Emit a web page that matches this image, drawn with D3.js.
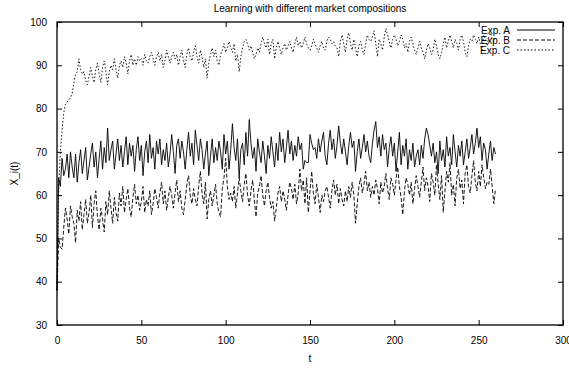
<!DOCTYPE html>
<html>
<head>
<meta charset="utf-8">
<script src="https://cdn.jsdelivr.net/npm/d3@7"></script>
<style>
  body { margin: 0; background: #fff; }
  text { font-family: "Liberation Sans", Arial, sans-serif; fill: #000; }
</style>
</head>
<body>
<div id="chart"></div>
<script>
// values, one per time step t = 0..260
const expA = [
  38, 64, 62, 68.5, 64.5, 66, 69.5, 64, 70, 66.5,
  64, 69.5, 63, 67.5, 70.5, 65, 68, 71, 63.5, 66.5,
  69.5, 72, 66.5, 70, 64, 68.5, 72.5, 66, 71, 67.5,
  75.5, 68, 70.5, 72.5, 66, 69.5, 73, 68, 71.5, 66.5,
  70, 73.5, 67, 72, 69, 71.5, 65.5, 70.5, 73.5, 68,
  71.5, 64.5, 70, 72.5, 67.5, 74, 68.5, 71, 66, 72.5,
  69.5, 73, 67, 70.5, 68, 72, 66.5, 69.5, 74, 70,
  65, 71.5, 73, 68.5, 72.5, 70, 66, 70.5, 74.5, 69,
  72, 67, 75, 71.5, 68, 73, 70.5, 66, 69.5, 72.5,
  64.5, 69, 73, 67.5, 71, 68, 72.5, 70, 66, 74,
  69.5, 72.5, 66, 70.5, 76.5, 71, 68, 73, 64, 70.5,
  72, 67, 74.5, 69, 77.5, 72, 68.5, 71, 65.5, 73,
  70, 67.5, 72.5, 69, 65, 71.5, 68.5, 73.5, 70, 66.5,
  72, 68, 74.5, 70, 73, 67.5, 71, 75, 69.5, 72.5,
  68, 71.5, 69, 73.5, 70.5, 72, 66, 68, 67.5, 67.5,
  74, 72, 70.5, 71, 68.5, 73, 70, 72.5, 74.5, 69,
  67, 72, 75, 70.5, 73, 68.5, 71.5, 76, 72, 69.5,
  73, 70, 67, 71.5, 74.5, 71, 72.5, 65.5, 70, 73,
  68.5, 71, 74, 70, 72.5, 69, 67.5, 72, 75, 77,
  71, 73.5, 69, 74, 70.5, 72, 66.5, 71, 73.5, 69,
  72, 65.5, 70, 74.5, 67, 71.5, 69, 73, 66, 70.5,
  68, 72, 66.5, 69, 70.5, 67, 71.5, 68.5, 73, 75.5,
  74, 71.5, 69, 72, 67.5, 70, 65, 72.5, 68, 70.5,
  66.5, 73.5, 69, 71, 67, 74, 70, 66.5, 71.5, 69,
  72.5, 67, 70, 73, 68.5, 71, 74, 69.5, 72, 75.5,
  71, 73.5, 68, 72, 70.5, 66, 69.5, 72.5, 68, 71,
  69.5
];
const expB = [
  38, 50, 48, 47.5, 52.5, 57, 54.5, 51, 57.5, 55,
  53.5, 49, 56.5, 54, 58.5, 52, 55.5, 59, 53.5, 56,
  60, 52.5, 58, 61, 55, 52, 57, 54.5, 51.5, 58.5,
  55.5, 61, 57, 53.5, 59.5, 56, 54, 60.5, 57.5, 62,
  56, 59, 61.5, 57, 55, 59.5, 62.5, 58, 60, 56.5,
  58.5, 62, 56, 59, 57.5, 61, 55.5, 58, 61.5, 59.5,
  57, 60.5, 63, 58, 61, 56.5, 59.5, 62, 60, 57,
  60.5, 63.5, 58.5, 61, 57, 55.5, 59, 62.5, 64.5, 60,
  58, 61.5, 59, 57.5, 62, 65.5, 60.5, 58, 63, 54.5,
  59, 61, 57.5, 60, 62.5, 58, 56, 55, 61.5, 64,
  68.5, 62, 59, 60.5, 58.5, 62, 57, 60.5, 64, 61,
  58.5, 62.5, 65, 60, 57.5, 61, 63.5, 59, 55, 60.5,
  62, 64.5, 60, 57.5, 61, 63, 59.5, 57, 58.5, 54,
  57, 60.5, 62, 58.5, 61, 59, 56.5, 60, 63, 61.5,
  59, 62.5, 58, 60.5, 66, 61, 63.5, 58, 64, 56,
  61, 65.5, 60.5, 58, 62.5, 59.5, 56, 60, 58.5, 61,
  62, 59.5, 57, 61, 63.5, 60, 62.5, 58, 61.5, 59,
  57.5, 61, 58.5, 62, 59.5, 63, 60, 53.5, 58, 62,
  64, 60.5, 62.5, 65.5, 61, 63, 59.5, 62, 60, 63.5,
  61.5, 58, 63, 60.5, 62, 65, 61.5, 59, 64, 62.5,
  60, 63.5, 66.5, 62, 59.5, 55.5, 61, 64, 62.5, 60,
  63, 58, 61.5, 64.5, 62, 59.5, 63, 66.5, 61, 64,
  62, 58.5, 65, 63, 60, 67, 62.5, 59, 64.5, 56,
  61, 65.5, 63, 67.5, 60, 62.5, 57.5, 64, 66, 61.5,
  63.5, 58, 65, 67, 62, 60.5, 64.5, 68, 63, 61,
  65.5, 62, 67, 64, 61.5, 63, 62.5, 66, 62, 58,
  61.5
];
const expC = [
  38, 62, 70, 75, 79, 81, 81.5, 82, 82.5, 83.5,
  86, 88, 88.5, 91.5, 89, 88, 88.5, 86.5, 85.5, 87.5,
  89.5, 87.5, 86, 89, 90.5, 88, 86, 89.5, 91, 88.5,
  85.5, 88.5, 90, 89, 91.5, 89, 87, 90, 91, 89.5,
  92, 90.5, 88, 91, 92.5, 90, 91.5, 90, 92, 91,
  91.5, 90, 92.5, 91, 90.5, 92, 93, 91.5, 90, 92,
  93, 91, 92.5, 89.5, 91, 93.5, 92, 90.5, 92, 93,
  91.5, 92.5, 90, 92, 93.5, 91, 89.5, 92.5, 94, 92,
  91, 93, 94.5, 92, 90.5, 93.5, 92, 89.5, 91.5, 87,
  90.5, 92.5, 94, 92, 93.5, 91, 90, 92.5, 93.5, 95,
  93, 94, 95.5, 94, 93, 95, 91, 92.5, 88.5, 92,
  94, 95.5, 96, 95, 93.5, 94.5, 93, 91.5, 92.5, 94,
  93, 95, 96.5, 95, 94, 96, 92.5, 95, 96, 91.5,
  94, 95.5, 94, 92.5, 94, 95, 93.5, 94.5, 95.5, 94,
  93, 95, 96.5, 94.5, 95.5, 94, 95, 96.5, 95, 94,
  93.5, 94.5, 96, 95, 94, 93, 94.5, 95.5, 94, 93.5,
  95.5, 96.5, 96, 95, 95.5, 94.5, 94, 92, 95.5, 97,
  95, 93, 96, 97.5, 95, 93.5, 96, 94, 92, 94.5,
  95.5, 93.5, 92.5, 95, 97, 96, 95.5, 96.5, 98, 95,
  92, 96, 95, 93.5, 96.5, 98.5, 97, 95.5, 94, 96,
  97, 96, 94.5, 95.5, 97, 96, 94, 95, 93, 95.5,
  96.5, 95, 93.5, 92.5, 94, 95.5, 94, 93, 91.5, 93.5,
  95, 94, 92.5, 93.5, 96, 94.5, 92.5, 91.5, 93, 95,
  96.5, 94, 95.5, 97, 95.5, 94, 96, 95, 93.5, 96,
  97, 95.5, 93, 92, 94.5, 96, 95.5, 97, 96, 95,
  96.5, 95, 93.5, 97, 96, 94.5, 96.5, 97.5, 96, 95.5,
  96.5
];
const seriesNames = ["Exp. A", "Exp. B", "Exp. C"];
const seriesDash = ["none", "4,2", "1.5,2"];
const xTicks = [0, 50, 100, 150, 200, 250, 300];
const yTicks = [30, 40, 50, 60, 70, 80, 90, 100];

const width = 569, height = 391;
const margin = {top: 22, right: 6, bottom: 66, left: 57};

const svg = d3.select("#chart").append("svg")
  .attr("width", width)
  .attr("height", height);

const x = d3.scaleLinear().domain([0, 300]).range([margin.left, width - margin.right]);
const y = d3.scaleLinear().domain([30, 100]).range([height - margin.bottom, margin.top]);

// title and axis labels
svg.append("text")
  .attr("x", (margin.left + width - margin.right) / 2).attr("y", 12)
  .attr("text-anchor", "middle").style("font-size", "10px")
  .text("Learning with different market compositions");
svg.append("text")
  .attr("x", (margin.left + width - margin.right) / 2).attr("y", 362)
  .attr("text-anchor", "middle").style("font-size", "10px")
  .text("t");
svg.append("text")
  .attr("transform", "translate(18," + (margin.top + height - margin.bottom) / 2 + ") rotate(-90)")
  .attr("text-anchor", "middle").style("font-size", "10px")
  .text("X_i(t)");

// axes, gnuplot style: ticks pointing inwards, mirrored
const tickLen = 5;
const axBottom = svg.append("g").attr("transform", `translate(0,${height - margin.bottom})`)
  .call(d3.axisBottom(x).tickValues(xTicks).tickSize(-tickLen).tickPadding(12).tickFormat(d3.format("d")));
const axTop = svg.append("g").attr("transform", `translate(0,${margin.top})`)
  .call(d3.axisTop(x).tickValues(xTicks).tickSize(-tickLen).tickFormat(""));
const axLeft = svg.append("g").attr("transform", `translate(${margin.left},0)`)
  .call(d3.axisLeft(y).tickValues(yTicks).tickSize(-tickLen).tickPadding(10).tickFormat(d3.format("d")));
const axRight = svg.append("g").attr("transform", `translate(${width - margin.right},0)`)
  .call(d3.axisRight(y).tickValues(yTicks).tickSize(-tickLen).tickFormat(""));

[axBottom, axTop, axLeft, axRight].forEach(g => {
  g.selectAll(".domain").remove();
  g.selectAll("line").attr("stroke", "#000");
  g.selectAll("text").style("font-size", "10px").style("font-family", "Liberation Sans, Arial, sans-serif");
});

svg.append("rect")
  .attr("x", margin.left).attr("y", margin.top)
  .attr("width", width - margin.left - margin.right)
  .attr("height", height - margin.top - margin.bottom)
  .attr("fill", "none").attr("stroke", "#000").attr("stroke-width", 1.3);

// series
const line = d3.line()
  .x((d, i) => x(i))
  .y(d => y(d));

[expA, expB, expC].forEach((vals, k) => {
  svg.append("path")
    .datum(vals)
    .attr("d", line)
    .attr("fill", "none")
    .attr("stroke", "#000")
    .attr("stroke-width", 0.9)
    .attr("stroke-dasharray", seriesDash[k]);
});

// legend
const legend = svg.append("g");
seriesNames.forEach((name, k) => {
  const ly = 30 + k * 10;
  legend.append("text")
    .attr("x", 510).attr("y", ly + 3.5)
    .attr("text-anchor", "end").style("font-size", "10px")
    .text(name);
  legend.append("line")
    .attr("x1", 517).attr("x2", 555)
    .attr("y1", ly).attr("y2", ly)
    .attr("stroke", "#000").attr("stroke-width", 1)
    .attr("stroke-dasharray", seriesDash[k]);
});
</script>
</body>
</html>
